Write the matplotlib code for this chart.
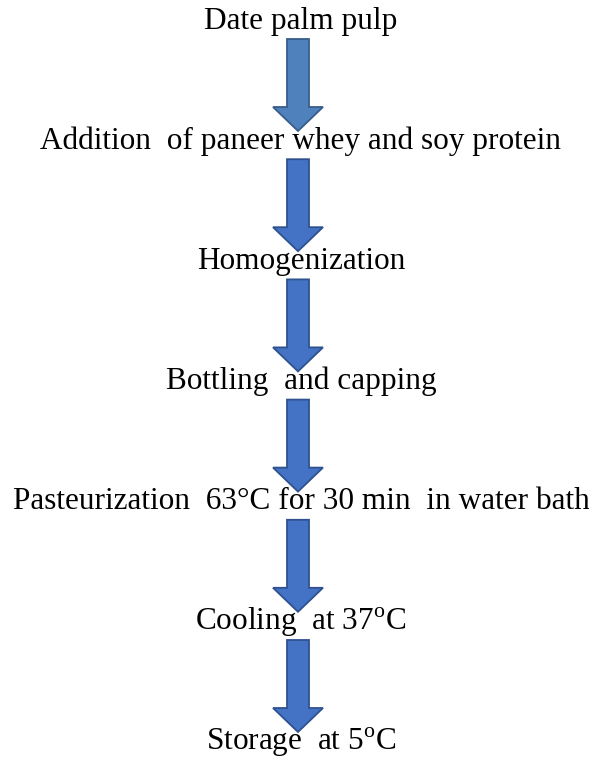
import matplotlib.pyplot as plt
from matplotlib.patches import FancyArrow

plt.rcParams['mathtext.fontset'] = 'custom'
plt.rcParams['mathtext.rm'] = 'Liberation Serif'

# process steps, top to bottom
steps = [
    "Date palm pulp",
    "Addition  of paneer whey and soy protein",
    "Homogenization",
    "Bottling  and capping",
    "Pasteurization  63\u00b0C for 30 min  in water bath",
    "Cooling  at 37$^{\\rm o}$C",
    "Storage  at 5$^{\\rm o}$C",
]
arrow_faces = ['#4F81BD'] + ['#4472C4'] * 5
arrow_edges = ['#385D8A'] + ['#2F528F'] * 5

W, H = 589, 759
fig = plt.figure(figsize=(W / 100, H / 100), dpi=100)
ax = fig.add_axes([0, 0, 1, 1])
ax.set_xlim(0, W)
ax.set_ylim(H, 0)
ax.axis('off')

step = 120.2
for i, s in enumerate(steps):
    ax.text(301, 21 + step * i, s, ha='center', va='center',
            family='Liberation Serif', fontsize=22.5, color='black')

# arrows between the steps
for i in range(len(steps) - 1):
    top = 39 + step * i
    ax.add_patch(FancyArrow(298, top, 0, 92, width=22, head_width=50,
                            head_length=24, length_includes_head=True,
                            facecolor=arrow_faces[i], edgecolor=arrow_edges[i],
                            linewidth=1.3))

fig.savefig('out.png', dpi=100)
